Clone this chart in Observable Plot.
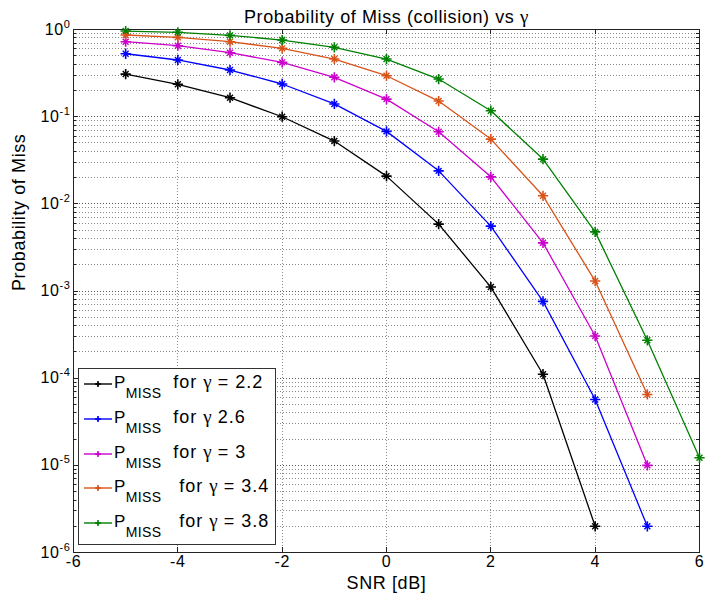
<!DOCTYPE html>
<html>
<head>
<meta charset="utf-8">
<script src="https://cdn.jsdelivr.net/npm/d3@7"></script>
<script src="https://cdn.jsdelivr.net/npm/@observablehq/plot@0.6"></script>
<style>
  body { margin: 0; background: #fff; }
  #wrap { position: relative; width: 707px; height: 605px; font-family: "Liberation Sans", Arial, sans-serif; }
  #wrap svg text { letter-spacing: 0.6px; }
  .legend { position: absolute; left: 78px; top: 368px; width: 198px; height: 177px; box-sizing: border-box;
            border: 1px solid #333; background: #fff; }
  .row { position: absolute; left: 0; height: 0; }
  .swatch { position: absolute; left: 5px; top: -5px; }
  .ltext { position: absolute; left: 35px; top: -12px; white-space: pre; font-size: 18px; line-height: 20px;
           letter-spacing: 1px; color: #000; }
  .ltext .p { font-size: 17px; letter-spacing: 0.5px; }
  .ltext .sub { position: relative; top: 10px; font-size: 14px; letter-spacing: 0.3px; }
  .greek { font-family: "Liberation Serif", "DejaVu Serif", serif; font-size: 19px; letter-spacing: 0; }
</style>
</head>
<body>
<div id="wrap"></div>
<script>
// ---- data ----
const snr = [-5, -4, -3, -2, -1, 0, 1, 2, 3, 4, 5, 6];
const gammaLabels = ["2.2", "2.6", "3", "3.4", "3.8"];
const legendTails = ["  for γ = 2.2", "  for γ 2.6", "  for γ = 3", "   for γ = 3.4", "   for γ = 3.8"];
const colors = ["#000000", "#0000ff", "#cc00cc", "#d95319", "#008000"];
const pMissG22 = [0.308, 0.235, 0.165, 0.0998, 0.0525, 0.0208, 0.00585, 0.00111, 1.11e-4, 2e-6];
const pMissG26 = [0.527, 0.447, 0.343, 0.237, 0.140, 0.0678, 0.0239, 0.00555, 7.6e-4, 5.7e-5, 2e-6];
const pMissG30 = [0.724, 0.652, 0.542, 0.420, 0.283, 0.159, 0.0671, 0.0204, 0.00357, 3.05e-4, 1e-5];
const pMissG34 = [0.865, 0.813, 0.724, 0.608, 0.458, 0.295, 0.151, 0.0553, 0.01236, 0.0013, 6.5e-5];
const pMissG38 = [0.96, 0.929, 0.857, 0.757, 0.625, 0.458, 0.270, 0.117, 0.0326, 0.00477, 2.72e-4, 1.22e-5];

const xTicks = [-6, -4, -2, 0, 2, 4, 6];
const yMajor = [1, 0.1, 0.01, 0.001, 1e-4, 1e-5, 1e-6];
const yTickExp = ["0", "-1", "-2", "-3", "-4", "-5", "-6"];
const titleText = "Probability of Miss (collision) vs γ";
const xLabel = "SNR [dB]";
const yLabel = "Probability of Miss";

// ---- build table ----
const series = [pMissG22, pMissG26, pMissG30, pMissG34, pMissG38];
const data = series.flatMap((vals, s) => vals.map((p, i) => ({snr: snr[i], p, g: gammaLabels[s]})));

const yMinor = [];
for (const dec of yMajor.slice(1)) for (const m of [2, 3, 4, 5, 6, 7, 8, 9]) yMinor.push(m * dec);

// ---- layout ----
const W = 707, H = 605;
const mL = 73, mR = 8, mT = 29, mB = 53;
const pw = W - mL - mR, ph = H - mT - mB;
const FONT = '"Liberation Sans", Arial, sans-serif';
const gridStyle = {stroke: "#8a8a8a", strokeDasharray: "1,2", strokeWidth: 1, shapeRendering: "crispEdges"};

const chart = Plot.plot({
  width: W, height: H,
  marginLeft: mL, marginRight: mR, marginTop: mT, marginBottom: mB,
  style: {fontFamily: FONT, fontSize: "16px", color: "#000", background: "#fff", overflow: "visible"},
  x: {domain: [-6, 6], ticks: xTicks, tickSize: 0, tickPadding: 3, label: null, tickFormat: d => String(d)},
  y: {type: "log", domain: [1e-6, 1], ticks: yMajor, tickSize: 0, tickPadding: 3, label: null,
      tickFormat: d => "10^" + yTickExp[yMajor.indexOf(d)]},
  color: {domain: gammaLabels, range: colors},
  marks: [
    Plot.ruleY(yMinor, gridStyle),
    Plot.ruleY(yMajor.slice(1, -1), {...gridStyle, stroke: "#555"}),
    Plot.ruleX(xTicks.slice(1, -1), gridStyle),
    // inward tick marks (MATLAB style)
    Plot.tickY(yMajor, {insetRight: pw - 5, stroke: "#222", shapeRendering: "crispEdges"}),
    Plot.tickY(yMajor, {insetLeft: pw - 5, stroke: "#222", shapeRendering: "crispEdges"}),
    Plot.tickY(yMinor, {insetRight: pw - 3, stroke: "#222", shapeRendering: "crispEdges"}),
    Plot.tickY(yMinor, {insetLeft: pw - 3, stroke: "#222", shapeRendering: "crispEdges"}),
    Plot.tickX(xTicks, {insetTop: ph - 5, stroke: "#222", shapeRendering: "crispEdges"}),
    Plot.tickX(xTicks, {insetBottom: ph - 5, stroke: "#222", shapeRendering: "crispEdges"}),
    Plot.frame({stroke: "#222", shapeRendering: "crispEdges"}),
    // data
    Plot.line(data, {x: "snr", y: "p", z: "g", stroke: "g", strokeWidth: 1.3}),
    Plot.dot(data, {x: "snr", y: "p", stroke: "g", symbol: "plus", r: 3.4, strokeWidth: 1.6}),
    Plot.dot(data, {x: "snr", y: "p", stroke: "g", symbol: "times", r: 2.8, strokeWidth: 1.4}),
    Plot.dot(data, {x: "snr", y: "p", fill: "g", r: 1.6}),
    // texts
    Plot.text([titleText], {text: d => d, frameAnchor: "top", lineAnchor: "middle", dy: -12, fontSize: 18, fill: "#000"}),
    Plot.text([xLabel], {text: d => d, frameAnchor: "bottom", lineAnchor: "middle", dy: 31, fontSize: 18, fill: "#000"}),
    Plot.text([yLabel], {text: d => d, frameAnchor: "left", lineAnchor: "middle", rotate: -90, dx: -54, fontSize: 18, fill: "#000"})
  ]
});

const NS = "http://www.w3.org/2000/svg";
chart.querySelectorAll("text").forEach(t => {
  const s = t.textContent;
  if (s.startsWith("10^")) {
    // superscript exponents on the y tick labels
    t.textContent = "";
    const base = document.createElementNS(NS, "tspan");
    base.textContent = "10";
    const sup = document.createElementNS(NS, "tspan");
    sup.textContent = s.slice(3);
    sup.setAttribute("dy", "-7");
    sup.setAttribute("font-size", "11");
    t.append(base, sup);
  } else if (s.includes("γ") && !t.querySelector("tspan")) {
    // Greek letter in a symbol-like serif face
    const parts = s.split("γ");
    t.textContent = "";
    parts.forEach((part, k) => {
      if (k > 0) {
        const g = document.createElementNS(NS, "tspan");
        g.textContent = "γ";
        g.setAttribute("font-family", '"Liberation Serif", "DejaVu Serif", serif');
        g.setAttribute("font-size", "19");
        t.append(g);
      }
      if (part) {
        const ts = document.createElementNS(NS, "tspan");
        ts.textContent = part;
        t.append(ts);
      }
    });
  }
});

const wrap = document.getElementById("wrap");
wrap.appendChild(chart);

// ---- legend (HTML overlay) ----
const legend = document.createElement("div");
legend.className = "legend";
gammaLabels.forEach((g, i) => {
  const row = document.createElement("div");
  row.className = "row";
  row.style.top = (15 + i * 34.8) + "px";
  const c = colors[i];
  row.innerHTML =
    `<svg class="swatch" width="28" height="10" viewBox="0 0 28 10">
       <line x1="0" y1="5" x2="28" y2="5" stroke="${c}" stroke-width="1.4"/>
       <line x1="11" y1="5" x2="17" y2="5" stroke="${c}" stroke-width="1.6"/>
       <line x1="14" y1="2" x2="14" y2="8" stroke="${c}" stroke-width="1.6"/>
       <circle cx="14" cy="5" r="1.6" fill="${c}"/>
     </svg>`;
  const txt = document.createElement("div");
  txt.className = "ltext";
  const p = document.createElement("span"); p.className = "p"; p.textContent = "P";
  const sub = document.createElement("span"); sub.className = "sub"; sub.textContent = "MISS";
  txt.append(p, sub);
  legendTails[i].split("γ").forEach((part, k) => {
    if (k > 0) {
      const gs = document.createElement("span"); gs.className = "greek"; gs.textContent = "γ";
      txt.append(gs);
    }
    const ps = document.createElement("span"); ps.textContent = part;
    txt.append(ps);
  });
  row.appendChild(txt);
  legend.appendChild(row);
});
wrap.appendChild(legend);
</script>
</body>
</html>
